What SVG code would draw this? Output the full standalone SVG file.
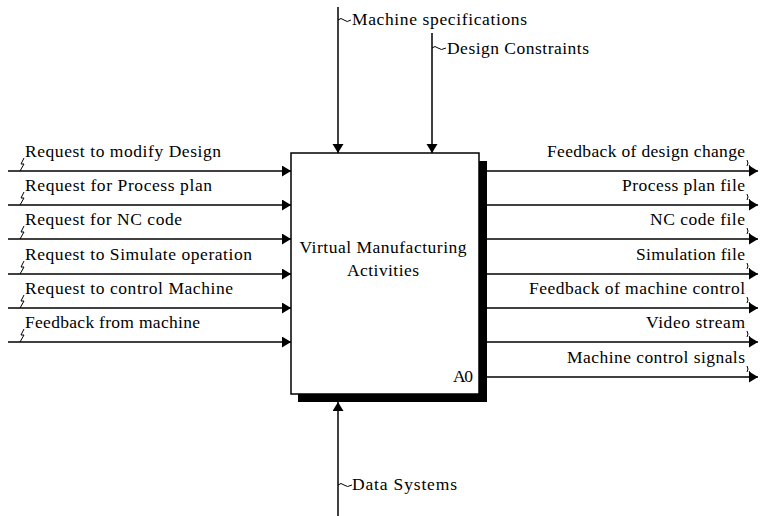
<svg xmlns="http://www.w3.org/2000/svg" width="760" height="516" viewBox="0 0 760 516">
<style>
.t{font-family:"Liberation Serif","Times New Roman",serif;font-size:17.5px;fill:#000}
.e{text-anchor:end}
.m{text-anchor:middle}
.ln{stroke:#000;stroke-width:1.5;fill:none}
.sq{stroke:#000;stroke-width:1;fill:none}
</style>
<defs>
<marker id="ah" markerUnits="userSpaceOnUse" markerWidth="10" markerHeight="12" refX="9" refY="5.5" orient="auto">
<path d="M0,0 L9,5.5 L0,11 Z" fill="#000"/>
</marker>
</defs>
<rect width="760" height="516" fill="#fff"/>
<g id="node-A0">
<rect x="298" y="161" width="189" height="241" fill="#000"/>
<rect x="291" y="153" width="188" height="241" fill="#fff" stroke="#000" stroke-width="1.5"/>
<text class="t m" x="383" y="253" textLength="167">Virtual Manufacturing</text>
<text class="t m" x="383" y="276" textLength="72">Activities</text>
<text class="t e" x="473" y="382" textLength="20">A0</text>
</g>
<g id="connectors">
<path class="ln" d="M8,171 H291" marker-end="url(#ah)"/>
<path class="ln" d="M8,205 H291" marker-end="url(#ah)"/>
<path class="ln" d="M8,239 H291" marker-end="url(#ah)"/>
<path class="ln" d="M8,274 H291" marker-end="url(#ah)"/>
<path class="ln" d="M8,308 H291" marker-end="url(#ah)"/>
<path class="ln" d="M8,342 H291" marker-end="url(#ah)"/>
<path class="ln" d="M487,171 H758" marker-end="url(#ah)"/>
<path class="ln" d="M487,205 H758" marker-end="url(#ah)"/>
<path class="ln" d="M487,239 H758" marker-end="url(#ah)"/>
<path class="ln" d="M487,274 H758" marker-end="url(#ah)"/>
<path class="ln" d="M487,308 H758" marker-end="url(#ah)"/>
<path class="ln" d="M487,342 H758" marker-end="url(#ah)"/>
<path class="ln" d="M487,377 H758" marker-end="url(#ah)"/>
<path class="ln" d="M338,7 V153" marker-end="url(#ah)"/>
<path class="ln" d="M432,33 V153" marker-end="url(#ah)"/>
<path class="ln" d="M338,516 V402" marker-end="url(#ah)"/>
<g class="sq">
<path d="M24,158 L21,164 L24,164 L20,171"/>
<path d="M24,192 L21,198 L24,198 L20,205"/>
<path d="M24,226 L21,232 L24,232 L20,239"/>
<path d="M24,261 L21,267 L24,267 L20,274"/>
<path d="M24,295 L21,301 L24,301 L20,308"/>
<path d="M24,329 L21,335 L24,335 L20,342"/>
<path d="M747,160 Q749,163 747,166 M749,165 L751,168 L752,171"/>
<path d="M747,194 Q749,197 747,200 M749,199 L751,202 L752,205"/>
<path d="M747,228 Q749,231 747,234 M749,233 L751,236 L752,239"/>
<path d="M747,263 Q749,266 747,269 M749,268 L751,271 L752,274"/>
<path d="M747,297 Q749,300 747,303 M749,302 L751,305 L752,308"/>
<path d="M747,331 Q749,334 747,337 M749,336 L751,339 L752,342"/>
<path d="M747,366 Q749,369 747,372 M749,371 L751,374 L752,377"/>
<path d="M338,20 Q341,17 344,20 T351,20"/>
<path d="M432,48 Q435,45 438,48 T446,48"/>
<path d="M338,485 Q341,482 344,485 T352,485"/>
</g>
</g>
<g id="labels">
<text class="t" x="25" y="157" textLength="196">Request to modify Design</text>
<text class="t" x="25" y="191" textLength="187">Request for Process plan</text>
<text class="t" x="25" y="225" textLength="157">Request for NC code</text>
<text class="t" x="25" y="260" textLength="227">Request to Simulate operation</text>
<text class="t" x="25" y="294" textLength="208">Request to control Machine</text>
<text class="t" x="25" y="328" textLength="175">Feedback from machine</text>
<text class="t e" x="745" y="157" textLength="198">Feedback of design change</text>
<text class="t e" x="745" y="191" textLength="123">Process plan file</text>
<text class="t e" x="745" y="225" textLength="95">NC code file</text>
<text class="t e" x="745" y="260" textLength="109">Simulation file</text>
<text class="t e" x="745" y="294" textLength="216">Feedback of machine control</text>
<text class="t e" x="745" y="328" textLength="99">Video stream</text>
<text class="t e" x="745" y="363" textLength="178">Machine control signals</text>
<text class="t" x="352" y="25" textLength="175">Machine specifications</text>
<text class="t" x="447" y="54" textLength="142">Design Constraints</text>
<text class="t" x="352" y="490" textLength="105">Data Systems</text>
</g>
</svg>
